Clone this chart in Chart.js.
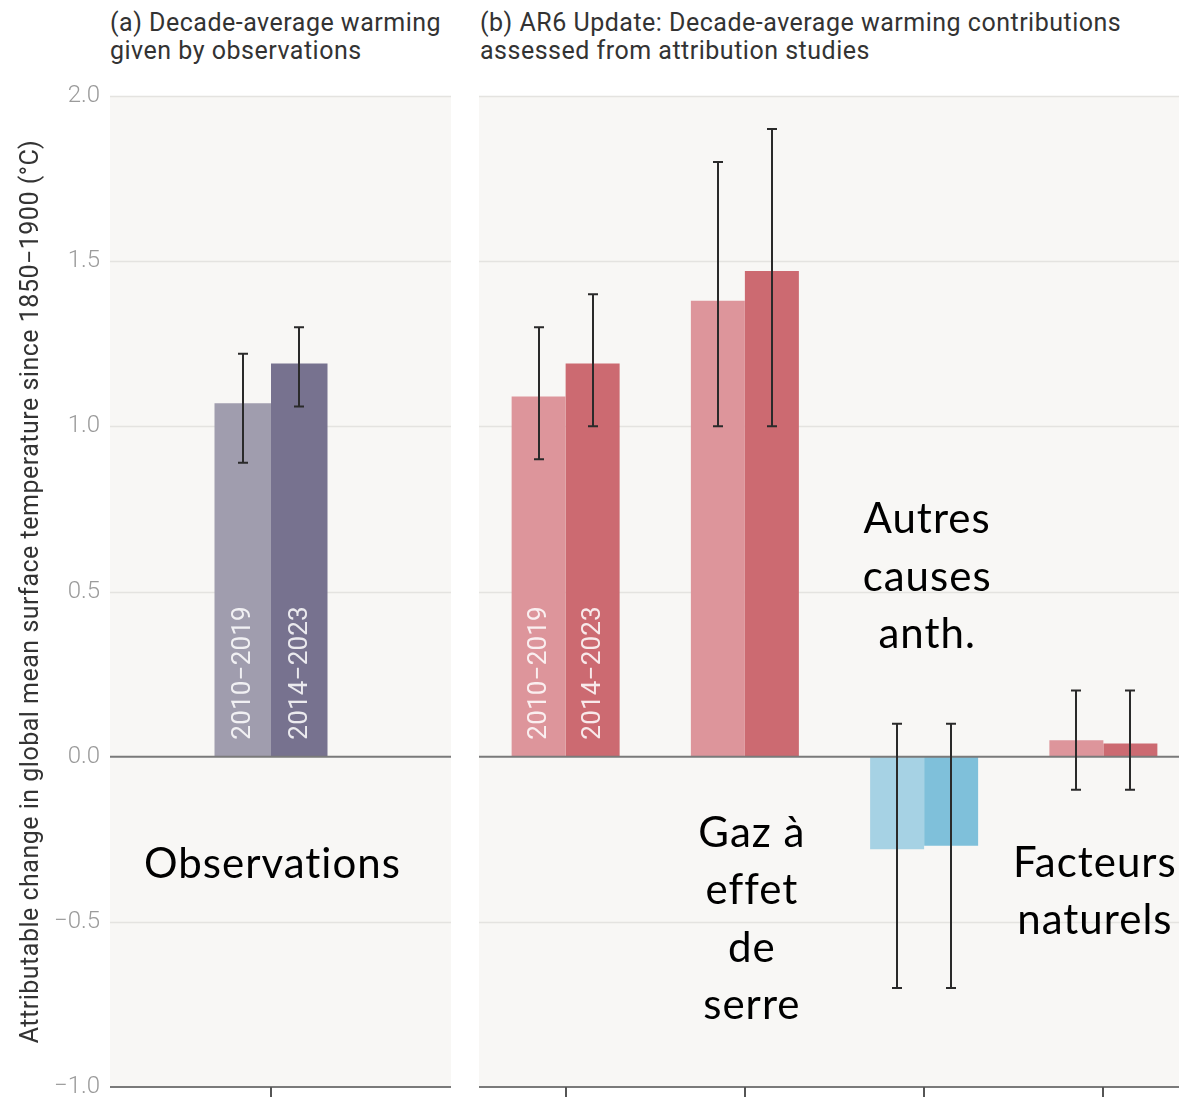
<!DOCTYPE html>
<html>
<head>
<meta charset="utf-8">
<script src="https://cdn.jsdelivr.net/npm/chart.js@4.4.1/dist/chart.umd.min.js"></script>
<style>
  html, body { margin: 0; padding: 0; background: #ffffff; overflow: hidden; width: 1179px; height: 1098px; }
  #wrap { position: relative; width: 1179px; height: 1098px; overflow: hidden; }
  canvas { position: absolute; top: 0; }
  #cA { left: 0; }
  #cB { left: 476px; }
  .ttl { position: absolute; top: 9px; font-family: Roboto, "Noto Sans", sans-serif; font-size: 25px; letter-spacing: 0.5px; line-height: 28px; color: #333333; white-space: nowrap; }
</style>
</head>
<body>
<div id="wrap">
  <div class="ttl" style="left:110px">(a) Decade-average warming<br>given by observations</div>
  <div class="ttl" style="left:480px">(b) AR6 Update: Decade-average warming contributions<br>assessed from attribution studies</div>
  <canvas id="cA" width="452" height="1130"></canvas>
  <canvas id="cB" width="717" height="1130"></canvas>
</div>
<script>
// ---------- DATA ----------
const periods = ['2010\u22122019', '2014\u22122023'];
const yTickValues = [-1.0, -0.5, 0.0, 0.5, 1.0, 1.5, 2.0];

const obsCategories = ['Observations'];
const obs2010 = [1.07];
const obs2010Low = [0.89];
const obs2010High = [1.22];
const obs2014 = [1.19];
const obs2014Low = [1.06];
const obs2014High = [1.30];

const attrCategories = ['Total humain', 'Gaz à effet de serre', 'Autres causes anth.', 'Facteurs naturels'];
const attr2010 = [1.09, 1.38, -0.28, 0.05];
const attr2010Low = [0.90, 1.00, -0.70, -0.10];
const attr2010High = [1.30, 1.80, 0.10, 0.20];
const attr2014 = [1.19, 1.47, -0.27, 0.04];
const attr2014Low = [1.00, 1.00, -0.70, -0.10];
const attr2014High = [1.40, 1.90, 0.10, 0.20];

const yTitle = 'Attributable change in global mean surface temperature since 1850\u22121900 (\u00b0C)';

// annotation texts (category index, first baseline in data units)
const obsNotes = [{ cat: 0, dx: 1.5, y: -0.367, lines: ['Observations'] }];
const attrNotes = [
  { cat: 1, dx: 7, y: -0.273, lines: ['Gaz à', 'effet', 'de', 'serre'] },
  { cat: 2, dx: 3, y: 0.676, lines: ['Autres', 'causes', 'anth.'] },
  { cat: 3, dx: -8.5, y: -0.364, lines: ['Facteurs', 'naturels'] }
];

// ---------- STYLE ----------
const PANEL_BG = '#f8f7f5';
const GRID = '#e4e3e0';
const AXIS = '#7a7a7a';
const ERR = '#2a2a2a';
const OBS_LIGHT = '#a09dae', OBS_DARK = '#77728f';
const RED_LIGHT = '#dd959b', RED_DARK = '#cc6a71';
const BLUE_LIGHT = '#a6d2e4', BLUE_DARK = '#7fc0da';

const panelPlugin = {
  id: 'panelPlugin',
  beforeDatasetsDraw(chart, args, opts) {
    const ctx = chart.ctx, a = chart.chartArea, y = chart.scales.y;
    const L = a.left + opts.extL, R = a.right + opts.extR;
    ctx.save();
    ctx.fillStyle = PANEL_BG;
    ctx.fillRect(L, a.top, R - L, a.bottom - a.top);
    ctx.strokeStyle = GRID; ctx.lineWidth = 1.5;
    yTickValues.forEach(v => {
      if (v === 0 || v === -1) return;
      const py = Math.round(y.getPixelForValue(v)) + 0.5;
      ctx.beginPath(); ctx.moveTo(L, py); ctx.lineTo(R, py); ctx.stroke();
    });
    if (opts.showTitle) {
      ctx.save();
      ctx.fillStyle = '#333333';
      ctx.font = '25px Roboto';
      ctx.letterSpacing = '0.5px';
      ctx.textAlign = 'center'; ctx.textBaseline = 'middle';
      ctx.translate(32, (a.top + a.bottom) / 2);
      ctx.rotate(-Math.PI / 2);
      ctx.fillText(yTitle, 0, 0);
      ctx.restore();
    }
    ctx.restore();
  },
  afterDatasetsDraw(chart, args, opts) {
    const ctx = chart.ctx, a = chart.chartArea, y = chart.scales.y, x = chart.scales.x;
    const L = a.left + opts.extL, R = a.right + opts.extR;
    ctx.save();
    // zero line
    ctx.strokeStyle = AXIS; ctx.lineWidth = 2;
    let py = y.getPixelForValue(0);
    ctx.beginPath(); ctx.moveTo(L, py); ctx.lineTo(R, py); ctx.stroke();
    // bottom axis
    py = y.getPixelForValue(-1);
    ctx.beginPath(); ctx.moveTo(L, py); ctx.lineTo(R, py); ctx.stroke();
    ctx.strokeStyle = '#555'; ctx.lineWidth = 2;
    chart.data.labels.forEach((l, i) => {
      const px = Math.round(x.getPixelForValue(i));
      ctx.beginPath(); ctx.moveTo(px, py); ctx.lineTo(px, py + 10); ctx.stroke();
    });
    // error bars
    ctx.strokeStyle = ERR; ctx.lineWidth = 2;
    chart.data.datasets.forEach((ds, di) => {
      const meta = chart.getDatasetMeta(di);
      meta.data.forEach((bar, j) => {
        const bx = Math.round(bar.x);
        const yl = y.getPixelForValue(ds.errLow[j]);
        const yh = y.getPixelForValue(ds.errHigh[j]);
        ctx.beginPath();
        ctx.moveTo(bx, yl); ctx.lineTo(bx, yh);
        ctx.moveTo(bx - 5, yl); ctx.lineTo(bx + 5, yl);
        ctx.moveTo(bx - 5, yh); ctx.lineTo(bx + 5, yh);
        ctx.stroke();
      });
    });
    // period labels inside first pair
    ctx.fillStyle = 'rgba(255,255,255,0.85)';
    ctx.font = '26px Roboto';
    ctx.letterSpacing = '0.2px';
    ctx.textAlign = 'left'; ctx.textBaseline = 'middle';
    chart.data.datasets.forEach((ds, di) => {
      const bar = chart.getDatasetMeta(di).data[0];
      ctx.save();
      ctx.translate(bar.x, y.getPixelForValue(0) - 17);
      ctx.rotate(-Math.PI / 2);
      ctx.fillText(periods[di], 0, 1);
      ctx.restore();
    });
    // annotations
    ctx.fillStyle = '#000';
    ctx.font = '42px Lato';
    ctx.letterSpacing = '1px';
    ctx.textAlign = 'center'; ctx.textBaseline = 'alphabetic';
    (opts.notes || []).forEach(n => {
      const cx = x.getPixelForValue(n.cat) + n.dx;
      const y0 = y.getPixelForValue(n.y);
      n.lines.forEach((t, k) => ctx.fillText(t, cx, y0 + k * 57.5));
    });
    ctx.restore();
  }
};

function yScale(show) {
  return {
    min: -1, max: 2,
    display: show,
    afterBuildTicks: s => { s.ticks = yTickValues.map(v => ({ value: v })); },
    afterFit: s => { if (show) s.width = 110; },
    grid: { display: false, drawTicks: false },
    border: { display: false },
    ticks: {
      padding: 10,
      color: '#9b9b9b',
      font: { family: 'Roboto', size: 24, weight: '300' },
      callback: v => (v < 0 ? '\u2212' : '') + Math.abs(v).toFixed(1)
    },
    title: { display: false }
  };
}

function baseOptions(padRight, notes, extL, extR, showY, catPct) {
  return {
    responsive: false,
    animation: false,
    devicePixelRatio: 1,
    layout: { padding: { top: 96, bottom: 43, left: 0, right: padRight } },
    plugins: {
      legend: { display: false }, tooltip: { enabled: false }, title: { display: false },
      panelPlugin: { extL, extR, notes, showTitle: showY }
    },
    datasets: { bar: { categoryPercentage: catPct, barPercentage: 1.0 } },
    scales: {
      x: { display: false, offset: true, grid: { display: false } },
      y: yScale(showY)
    }
  };
}

new Chart(document.getElementById('cA'), {
  type: 'bar',
  data: {
    labels: obsCategories,
    datasets: [
      { label: periods[0], data: obs2010, errLow: obs2010Low, errHigh: obs2010High, backgroundColor: OBS_LIGHT, borderWidth: 0 },
      { label: periods[1], data: obs2014, errLow: obs2014Low, errHigh: obs2014High, backgroundColor: OBS_DARK, borderWidth: 0 }
    ]
  },
  options: baseOptions(20, obsNotes, 0, 19, true, 113 / 322),
  plugins: [panelPlugin]
});

new Chart(document.getElementById('cB'), {
  type: 'bar',
  data: {
    labels: attrCategories,
    datasets: [
      { label: periods[0], data: attr2010, errLow: attr2010Low, errHigh: attr2010High,
        backgroundColor: attr2010.map((v, i) => i === 2 ? BLUE_LIGHT : RED_LIGHT), borderWidth: 0 },
      { label: periods[1], data: attr2014, errLow: attr2014Low, errHigh: attr2014High,
        backgroundColor: attr2014.map((v, i) => i === 2 ? BLUE_DARK : RED_DARK), borderWidth: 0 }
    ]
  },
  options: baseOptions(0, attrNotes, 3, 0, false, 108 / 179.25),
  plugins: [panelPlugin]
});
</script>
</body>
</html>
